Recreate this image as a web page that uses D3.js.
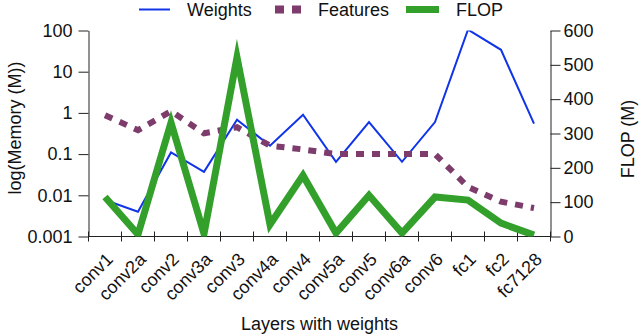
<!DOCTYPE html>
<meta charset="utf-8">
<script src="https://d3js.org/d3.v7.min.js"></script>
<style>
  body { margin: 0; background: #fff; }
  text { font-family: "Liberation Sans", Arial, sans-serif; }
</style>
<div id="chart"></div>
<script>

// data
const layers   = ["conv1", "conv2a", "conv2", "conv3a", "conv3", "conv4a", "conv4",
                  "conv5a", "conv5", "conv6a", "conv6", "fc1", "fc2", "fc7128"];
const weights  = [0.0077, 0.004, 0.11, 0.037, 0.68, 0.16, 0.9,
                  0.065, 0.6, 0.065, 0.6, 105, 34, 0.55];
const features = [0.88, 0.38, 1.1, 0.32, 0.45, 0.16, 0.13,
                  0.1, 0.1, 0.1, 0.1, 0.016, 0.007, 0.0049];
const flop     = [115, 6, 332, 8, 522, 35, 178, 10, 120, 10, 115, 106, 39, 4];

const memTicks  = [0.001, 0.01, 0.1, 1, 10, 100];
const flopTicks = [0, 100, 200, 300, 400, 500, 600];

const seriesNames  = ["Weights", "Features", "FLOP"];
const seriesColors = ["#1034e8", "#7d3c6b", "#33a02c"];

const W = 640, H = 336;
const plotLeft = 88.5, plotRight = 550.5, plotTop = 30.5, plotBottom = 236.5;
const fontSize = 18;

const svg = d3.select("#chart").append("svg")
    .attr("width", W)
    .attr("height", H);

// lines are clipped to the plot box
svg.append("clipPath").attr("id", "plotclip")
  .append("rect")
    .attr("x", plotLeft).attr("y", plotTop)
    .attr("width", plotRight - plotLeft)
    .attr("height", plotBottom - plotTop);

const x = d3.scaleBand().domain(layers).range([plotLeft, plotRight]);
const cx = d => x(d) + x.bandwidth() / 2;
const yMem = d3.scaleLog().domain([0.001, 100]).range([plotBottom, plotTop]);
const yFlop = d3.scaleLinear().domain([0, 600]).range([plotBottom, plotTop]);

// left axis
const la = svg.append("g")
    .attr("transform", `translate(${plotLeft},0)`)
    .call(d3.axisLeft(yMem).tickValues(memTicks).tickFormat(d => String(d))
      .tickSize(10).tickPadding(6).tickSizeOuter(0));
// right axis
const ra = svg.append("g")
    .attr("transform", `translate(${plotRight},0)`)
    .call(d3.axisRight(yFlop).tickValues(flopTicks)
      .tickSize(10).tickPadding(3).tickSizeOuter(0));
[la, ra].forEach(g => {
  g.attr("font-size", fontSize).attr("font-family", null);
  g.selectAll("line, path").attr("stroke", "#222");
  g.selectAll("text").attr("fill", "#111");
});

// bottom axis: line, ticks at band edges crossing the line
svg.append("line")
    .attr("x1", plotLeft).attr("x2", plotRight)
    .attr("y1", plotBottom).attr("y2", plotBottom)
    .attr("stroke", "#222");
const edges = layers.map(d => x(d)).concat([x.range()[1]]);
svg.append("g").selectAll("line")
  .data(edges)
  .join("line")
    .attr("x1", d => d).attr("x2", d => d)
    .attr("y1", plotBottom - 5).attr("y2", plotBottom + 5)
    .attr("stroke", "#222");
svg.append("g").selectAll("text")
  .data(layers)
  .join("text")
    .attr("transform", d => `translate(${cx(d) + 9},${plotBottom + 24}) rotate(-45)`)
    .attr("text-anchor", "end")
    .attr("font-size", fontSize)
    .attr("fill", "#111")
    .text(d => d);

// axis titles
svg.append("text")
    .attr("x", (plotLeft + plotRight) / 2).attr("y", 330)
    .attr("text-anchor", "middle")
    .attr("font-size", fontSize)
    .attr("fill", "#111")
    .text("Layers with weights");
svg.append("text")
    .attr("transform", "translate(21,128) rotate(-90)")
    .attr("text-anchor", "middle")
    .attr("font-size", fontSize)
    .attr("fill", "#111")
    .text("log(Memory (M))");
svg.append("text")
    .attr("transform", "translate(634,139) rotate(-90)")
    .attr("text-anchor", "middle")
    .attr("font-size", fontSize)
    .attr("fill", "#111")
    .text("FLOP (M)");

// lines
const memLine = d3.line().x((d, i) => cx(layers[i])).y(d => yMem(d));
const flopLine = d3.line().x((d, i) => cx(layers[i])).y(d => yFlop(d));
const plot = svg.append("g").attr("clip-path", "url(#plotclip)");

plot.append("path")
    .datum(weights)
    .attr("d", memLine)
    .attr("fill", "none")
    .attr("stroke", seriesColors[0])
    .attr("stroke-width", 2);

plot.append("path")
    .datum(features)
    .attr("d", memLine)
    .attr("fill", "none")
    .attr("stroke", seriesColors[1])
    .attr("stroke-width", 6)
    .attr("stroke-dasharray", "8,8");

plot.append("path")
    .datum(flop)
    .attr("d", flopLine)
    .attr("fill", "none")
    .attr("stroke", seriesColors[2])
    .attr("stroke-width", 7)
    .attr("stroke-linejoin", "miter")
    .attr("stroke-miterlimit", 10);

// legend
const legendX = [139, 275, 406];
const legendStyle = [
  {w: 2, dash: null, len: 31},
  {w: 8, dash: "9,8", len: 26},
  {w: 7, dash: null, len: 33}
];
const lg = svg.append("g");
seriesNames.forEach((name, i) => {
  const s = legendStyle[i];
  lg.append("line")
      .attr("x1", legendX[i]).attr("x2", legendX[i] + s.len)
      .attr("y1", 9.5).attr("y2", 9.5)
      .attr("stroke", seriesColors[i])
      .attr("stroke-width", s.w)
      .attr("stroke-dasharray", s.dash);
  lg.append("text")
      .attr("x", legendX[i] + s.len + 17)
      .attr("y", 15.5)
      .attr("font-size", fontSize)
      .attr("fill", "#111")
      .text(name);
});
</script>
